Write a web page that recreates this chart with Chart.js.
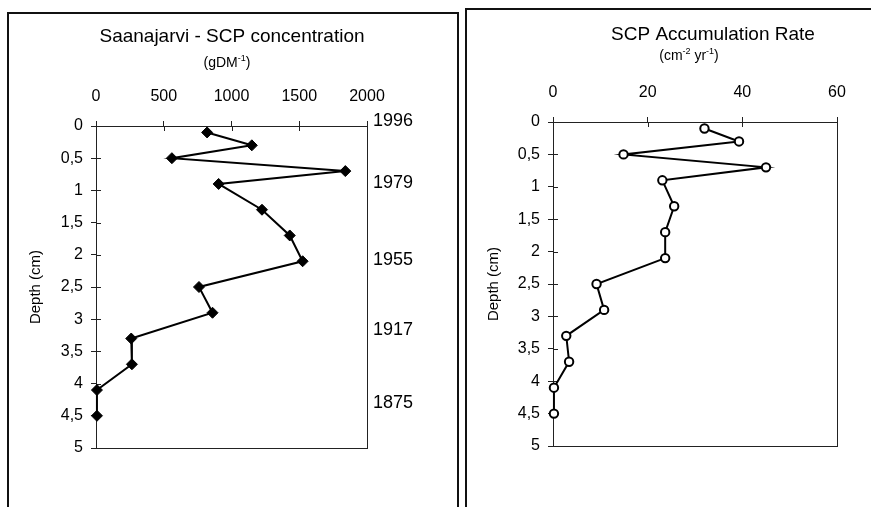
<!DOCTYPE html>
<html>
<head>
<meta charset="utf-8">
<script src="https://cdn.jsdelivr.net/npm/chart.js@4.4.0/dist/chart.umd.min.js"></script>
<style>
  html, body { margin: 0; padding: 0; background: #fff; }
  body { width: 871px; height: 507px; position: relative; overflow: hidden; }
  .frame { position: absolute; border: 2px solid #111; box-sizing: border-box; }
  canvas { position: absolute; top: 0; }
</style>
</head>
<body>
<div class="frame" style="left:7px; top:12px; width:452px; height:560px;"></div>
<div class="frame" style="left:465px; top:8px; width:480px; height:560px;"></div>
<canvas id="concChart" width="462" height="507" style="left:0"></canvas>
<canvas id="rateChart" width="409" height="507" style="left:462px"></canvas>

<script>
const FONT = "Arial, 'Liberation Sans', sans-serif";

// core depths (cm) shared by both profiles
const depths = [0.1, 0.3, 0.5, 0.7, 0.9, 1.3, 1.7, 2.1, 2.5, 2.9, 3.3, 3.7, 4.1, 4.5];
// SCP concentration (gDM-1)
const scpConcentration = [820, 1150, 560, 1840, 905, 1225, 1430, 1525, 760, 860, 260, 265, 7, 7];
// SCP accumulation rate (cm-2 yr-1)
const scpAccumulation = [32.0, 39.3, 14.9, 45.0, 23.1, 25.6, 23.7, 23.7, 9.2, 10.8, 2.8, 3.4, 0.2, 0.2];

const depthTicks = [0, 0.5, 1, 1.5, 2, 2.5, 3, 3.5, 4, 4.5, 5];
const concTicks = [0, 500, 1000, 1500, 2000];
const rateTicks = [0, 20, 40, 60];

// 210Pb dates marked beside the concentration profile
const yearLabels = ['1996', '1979', '1955', '1917', '1875'];
const yearDepths = [0, 0.96, 2.16, 3.25, 4.38];

const toPoints = vals => vals.map((v, i) => ({ x: v, y: depths[i] }));
const setTicks = list => scale => { scale.ticks = list.map(v => ({ value: v })); };

// plot frame on the right/bottom plus tick marks crossing into the plot
const plotFrame = {
  id: 'plotFrame',
  beforeDatasetsDraw(chart) {
    const { ctx, chartArea: a, scales: { x, y } } = chart;
    ctx.save();
    ctx.strokeStyle = '#222';
    ctx.lineWidth = 1;
    ctx.strokeRect(a.left + 0.5, a.top + 0.5, a.right - a.left, a.bottom - a.top);
    ctx.beginPath();
    x.ticks.forEach(t => {
      const px = Math.round(x.getPixelForValue(t.value)) + 0.5;
      ctx.moveTo(px, a.top);
      ctx.lineTo(px, a.top + 5);
    });
    y.ticks.forEach(t => {
      const py = Math.round(y.getPixelForValue(t.value)) + 0.5;
      ctx.moveTo(a.left, py);
      ctx.lineTo(a.left + 5, py);
    });
    ctx.stroke();
    ctx.restore();
  }
};

// title, unit line with raised exponents, optional year labels
const headings = {
  id: 'headings',
  afterDraw(chart, args, opts) {
    const ctx = chart.ctx;
    ctx.save();
    ctx.fillStyle = '#000';
    ctx.textBaseline = 'middle';
    ctx.textAlign = 'center';
    ctx.font = `${opts.titleSize}px ${FONT}`;
    ctx.fillText(opts.title, opts.titleX, opts.titleY);

    const normal = `${opts.unitSize}px ${FONT}`;
    const small = `${Math.round(opts.unitSize * 0.65)}px ${FONT}`;
    let total = 0;
    opts.unit.forEach(([txt, sup]) => {
      ctx.font = sup ? small : normal;
      total += ctx.measureText(txt).width;
    });
    let cx = opts.unitX - total / 2;
    ctx.textAlign = 'left';
    opts.unit.forEach(([txt, sup]) => {
      ctx.font = sup ? small : normal;
      ctx.fillText(txt, cx, opts.unitY - (sup ? 4 : 0));
      cx += ctx.measureText(txt).width;
    });

    if (opts.years) {
      const y = chart.scales.y;
      ctx.font = `18px ${FONT}`;
      ctx.textBaseline = 'alphabetic';
      yearLabels.forEach((lbl, i) => {
        ctx.fillText(lbl, chart.chartArea.right + 6, y.getPixelForValue(yearDepths[i]));
      });
    }
    ctx.restore();
  }
};

function depthScale(width, titlePad) {
  return {
    type: 'linear',
    reverse: true,
    min: 0,
    max: 5,
    afterBuildTicks: setTicks(depthTicks),
    ticks: {
      color: '#000',
      font: { family: FONT, size: 16 },
      padding: 8,
      callback: v => String(v).replace('.', ',')
    },
    grid: { drawOnChartArea: false, tickLength: 5, color: '#222' },
    border: { color: '#222' },
    title: {
      display: true,
      text: 'Depth (cm)',
      color: '#000',
      font: { family: FONT, size: 15 },
      padding: { top: titlePad, bottom: 0 }
    },
    afterFit: s => { s.width = width; s.paddingTop = 0; s.paddingBottom = 0; }
  };
}

function valueScale(max, list) {
  return {
    type: 'linear',
    position: 'top',
    min: 0,
    max,
    afterBuildTicks: setTicks(list),
    ticks: {
      color: '#000',
      font: { family: FONT, size: 16 },
      padding: 15,
      maxRotation: 0,
      callback: v => String(v)
    },
    grid: { drawOnChartArea: false, tickLength: 5, color: '#222' },
    border: { color: '#222' },
    afterFit: s => { s.height = 56; s.paddingLeft = 0; s.paddingRight = 0; }
  };
}

new Chart(document.getElementById('concChart'), {
  type: 'line',
  data: {
    datasets: [{
      data: toPoints(scpConcentration),
      borderColor: '#000',
      borderWidth: 2,
      pointStyle: 'rectRot',
      pointRadius: 5.5,
      pointBackgroundColor: '#000',
      pointBorderColor: '#000',
      pointBorderWidth: 1,
      tension: 0,
      clip: false
    }]
  },
  options: {
    responsive: false,
    animation: false,
    devicePixelRatio: 1,
    events: [],
    layout: { padding: { left: 0, right: 95, top: 70, bottom: 59 } },
    scales: {
      x: valueScale(2000, concTicks),
      y: depthScale(96, 27)
    },
    plugins: {
      legend: { display: false },
      tooltip: { enabled: false },
      headings: {
        title: 'Saanajarvi - SCP concentration',
        titleSize: 19, titleX: 232, titleY: 37,
        unit: [['(gDM', false], ['-1', true], [')', false]],
        unitSize: 14, unitX: 227, unitY: 63,
        years: true
      }
    }
  },
  plugins: [plotFrame, headings]
});

new Chart(document.getElementById('rateChart'), {
  type: 'line',
  data: {
    datasets: [{
      data: toPoints(scpAccumulation),
      borderColor: '#000',
      borderWidth: 2,
      pointStyle: 'circle',
      pointRadius: 4.2,
      pointBackgroundColor: '#fff',
      pointBorderColor: '#000',
      pointBorderWidth: 2,
      tension: 0,
      clip: false
    }]
  },
  options: {
    responsive: false,
    animation: false,
    devicePixelRatio: 1,
    events: [],
    layout: { padding: { left: 0, right: 34, top: 66, bottom: 61 } },
    scales: {
      x: valueScale(60, rateTicks),
      y: depthScale(91, 23)
    },
    plugins: {
      legend: { display: false },
      tooltip: { enabled: false },
      headings: {
        title: 'SCP Accumulation Rate',
        titleSize: 19, titleX: 251, titleY: 35,
        unit: [['(cm', false], ['-2', true], [' yr', false], ['-1', true], [')', false]],
        unitSize: 14, unitX: 227, unitY: 56,
        years: false
      }
    }
  },
  plugins: [plotFrame, headings]
});
</script>
</body>
</html>
